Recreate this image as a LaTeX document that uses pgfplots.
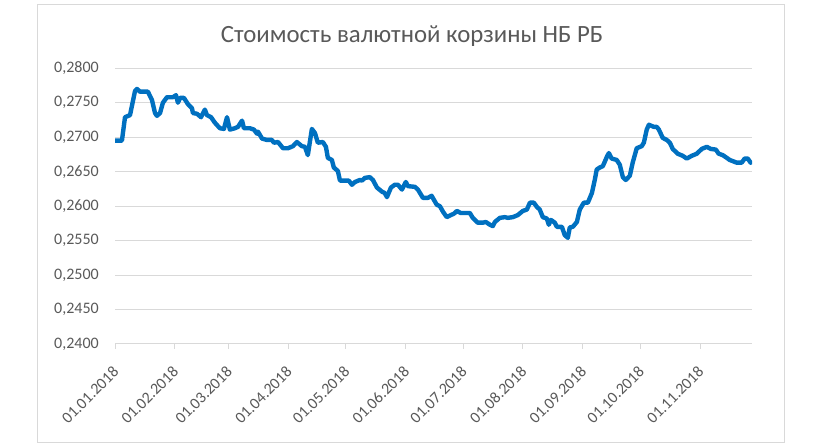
\documentclass[border=0pt]{standalone}
\usepackage{pgfplots}
\pgfplotsset{compat=1.18}
\usepackage{pgfplotstable}
\usepackage{fontspec}
\setmainfont{Carlito}
\definecolor{linecol}{HTML}{0070C0}
\definecolor{gridcol}{HTML}{D9D9D9}
\definecolor{txtcol}{HTML}{595959}
\pgfplotstableread{
day val
0 0.2695
3.6 0.2695
5.2 0.2729
7.8 0.2732
10.4 0.2767
11.4 0.2770
13.0 0.2766
17.1 0.2766
19.2 0.2754
20.8 0.2735
21.8 0.2731
23.4 0.2735
24.9 0.2750
27.0 0.2758
29.6 0.2758
30.1 0.2758
31.7 0.2761
32.7 0.2750
33.8 0.2757
35.8 0.2757
37.9 0.2748
40.0 0.2742
40.5 0.2735
42.6 0.2734
44.7 0.2729
46.7 0.2740
47.8 0.2732
49.9 0.2729
51.9 0.2721
54.5 0.2713
56.6 0.2712
58.2 0.2729
59.7 0.2711
62.3 0.2713
63.9 0.2715
66.0 0.2724
67.0 0.2713
70.1 0.2713
72.2 0.2711
73.8 0.2705
74.3 0.2708
76.4 0.2698
78.9 0.2696
81.5 0.2696
82.6 0.2692
84.7 0.2693
87.3 0.2684
89.9 0.2684
92.5 0.2687
94.5 0.2693
97.1 0.2687
98.7 0.2686
100.2 0.2674
102.3 0.2712
103.9 0.2706
105.4 0.2692
108.0 0.2693
109.6 0.2686
110.6 0.2670
112.7 0.2667
113.7 0.2656
115.8 0.2651
116.9 0.2637
119.5 0.2637
121.5 0.2637
123.1 0.2631
124.7 0.2635
127.3 0.2638
128.3 0.2637
129.9 0.2641
132.4 0.2642
134.0 0.2638
136.1 0.2627
138.7 0.2621
140.2 0.2619
141.3 0.2613
143.4 0.2627
145.4 0.2631
147.0 0.2631
149.1 0.2624
151.1 0.2635
152.2 0.2629
155.8 0.2628
157.4 0.2624
160.0 0.2612
162.6 0.2612
164.5 0.2615
167.2 0.2602
168.8 0.2600
170.4 0.2592
172.4 0.2584
174.5 0.2587
176.1 0.2589
177.6 0.2593
179.7 0.2590
184.4 0.2590
185.9 0.2583
188.5 0.2576
191.1 0.2576
192.7 0.2577
194.8 0.2573
196.3 0.2571
197.4 0.2577
200.0 0.2583
202.6 0.2584
204.1 0.2583
206.7 0.2584
209.3 0.2587
211.9 0.2593
214.0 0.2595
215.6 0.2605
217.6 0.2605
219.2 0.2599
220.7 0.2595
222.3 0.2584
224.4 0.2582
225.4 0.2573
226.5 0.2580
228.5 0.2576
229.6 0.2570
232.2 0.2570
233.7 0.2558
235.3 0.2554
236.3 0.2569
237.9 0.2570
240.0 0.2577
241.5 0.2595
243.6 0.2605
245.7 0.2605
247.8 0.2619
249.3 0.2638
250.3 0.2653
251.9 0.2656
253.5 0.2658
255.5 0.2671
256.6 0.2677
258.1 0.2669
260.7 0.2667
262.3 0.2660
263.9 0.2642
265.4 0.2638
267.5 0.2644
269.0 0.2663
271.1 0.2684
273.7 0.2687
274.8 0.2692
276.3 0.2711
277.4 0.2718
280.0 0.2715
281.5 0.2715
282.6 0.2711
284.6 0.2699
286.7 0.2696
288.3 0.2692
289.8 0.2683
292.4 0.2676
295.0 0.2673
297.1 0.2669
299.7 0.2673
302.3 0.2676
304.9 0.2683
307.5 0.2686
309.6 0.2683
312.2 0.2682
313.7 0.2676
315.8 0.2674
317.9 0.2670
319.4 0.2667
323.1 0.2663
325.6 0.2663
327.2 0.2669
328.8 0.2669
330.3 0.2663
}\datatable
\begin{document}
\begin{tikzpicture}
\path[use as bounding box, fill=white] (0pt,0pt) rectangle (615pt,336pt);
\draw[gridcol, line width=0.75pt] (27.75pt,3.75pt) rectangle (588pt,332.25pt);
\begin{axis}[
  at={(86.25pt,78pt)}, anchor=south west,
  scale only axis, width=477.75pt, height=206.8pt,
  xmin=0, xmax=331, ymin=0.24, ymax=0.28,
  axis x line*=bottom, axis y line*=left,
  x axis line style={draw=gridcol, line width=0.75pt},
  y axis line style={draw=none},
  xtick={0,31,59,90,120,151,181,212,243,273,304},
  xticklabels={01.01.2018,01.02.2018,01.03.2018,01.04.2018,01.05.2018,01.06.2018,01.07.2018,01.08.2018,01.09.2018,01.10.2018,01.11.2018},
  xtick align=outside,
  xtick style={draw=gridcol, line width=0.75pt},
  x tick label style={font=\fontsize{12}{14}\selectfont, text=txtcol, inner sep=0pt, xshift=0.75pt, yshift=-15pt, rotate=45, anchor=east},
  major tick length=3.75pt,
  ytick={0.24,0.245,0.25,0.255,0.26,0.265,0.27,0.275,0.28},
  ytick style={draw=none},
  scaled y ticks=false,
  y tick label style={font=\fontsize{12}{14}\selectfont, text=txtcol, inner sep=0pt, xshift=-12pt,
    /pgf/number format/.cd, fixed, fixed zerofill, precision=4, use comma, assume math mode=true},
  ymajorgrids,
  grid style={draw=gridcol, line width=0.75pt},
]
\addplot[linecol, line width=3.3pt, line join=round, line cap=round] table[x=day, y=val] {\datatable};
\end{axis}
\node[anchor=base, font=\fontsize{18.6}{22}\selectfont, text=txtcol] at (309pt,303.75pt) {Стоимость валютной корзины НБ РБ};
\end{tikzpicture}
\end{document}
